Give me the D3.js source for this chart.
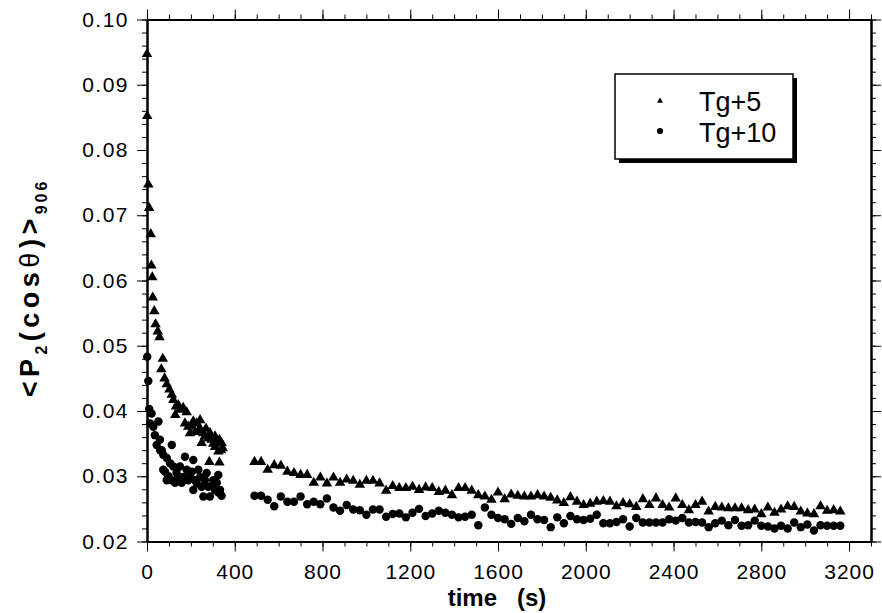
<!DOCTYPE html>
<html>
<head>
<meta charset="utf-8">
<script src="https://cdn.jsdelivr.net/npm/d3@7"></script>
<style>
  html, body { margin: 0; padding: 0; background: #fff; }
  svg { display: block; font-family: "Liberation Sans", Arial, sans-serif; }
  .domain { stroke: #000; stroke-width: 2; }
  .tick line { stroke: #000; stroke-width: 1; }
</style>
</head>
<body>
<svg id="chart" width="882" height="613"></svg>
<script>
// ---------------------------------------------------------------------------
// Data. Time in s, order parameter <P2(cos θ)>.
// ---------------------------------------------------------------------------

// first run, 0-350 s: [time, value]
const tg5Early = [
  [0, 0.0947], [1, 0.0852], [6, 0.0747], [10, 0.0711], [17, 0.0671], [20, 0.0623],
  [24, 0.0605], [26, 0.0574], [33, 0.0553], [39, 0.0533], [49, 0.0522], [57, 0.0513],
  [65, 0.0464], [72, 0.0480], [80, 0.0450], [90, 0.0441], [102, 0.0433], [113, 0.0425],
  [120, 0.0417], [129, 0.0394], [132, 0.0407], [143, 0.0409], [150, 0.0402], [165, 0.0405],
  [173, 0.0381], [181, 0.0398], [188, 0.0376], [196, 0.0366], [203, 0.0378], [211, 0.0384],
  [219, 0.0368], [227, 0.0381], [234, 0.0370], [242, 0.0386], [242, 0.0373], [249, 0.0351],
  [257, 0.0366], [264, 0.0361], [269, 0.0373], [279, 0.0358], [284, 0.0322], [287, 0.0366],
  [295, 0.0356], [302, 0.0350], [310, 0.0361], [310, 0.0345], [318, 0.0352], [325, 0.0338],
  [330, 0.0356], [330, 0.0321], [337, 0.0340], [340, 0.0351], [345, 0.0343]
];

const tg10Early = [
  [1, 0.0483], [6, 0.0446], [10, 0.0403], [14, 0.0381], [21, 0.0396], [29, 0.0376],
  [36, 0.0363], [44, 0.0348], [52, 0.0384], [59, 0.0356], [60, 0.0340], [67, 0.0340],
  [74, 0.0333], [74, 0.0310], [82, 0.0307], [90, 0.0328], [90, 0.0294], [98, 0.0300],
  [105, 0.0320], [113, 0.0348], [113, 0.0294], [120, 0.0315], [128, 0.0290], [135, 0.0305],
  [143, 0.0297], [150, 0.0315], [158, 0.0290], [165, 0.0299], [173, 0.0330], [181, 0.0310],
  [188, 0.0294], [196, 0.0300], [204, 0.0307], [211, 0.0325], [211, 0.0279], [219, 0.0294],
  [227, 0.0289], [234, 0.0310], [242, 0.0299], [249, 0.0284], [257, 0.0269], [264, 0.0294],
  [272, 0.0305], [279, 0.0284], [287, 0.0269], [295, 0.0285], [302, 0.0294], [310, 0.0279],
  [318, 0.0290], [325, 0.0302], [325, 0.0275], [333, 0.0279], [340, 0.0270]
];

// second run, sampled every 30 s
const lateTimes = [
  490, 520, 550, 580, 610, 640, 670, 700, 730, 760,
  790, 820, 850, 880, 910, 940, 970, 1000, 1030, 1060,
  1090, 1120, 1150, 1180, 1210, 1240, 1270, 1300, 1330, 1360,
  1390, 1420, 1450, 1480, 1510, 1540, 1570, 1600, 1630, 1660,
  1690, 1720, 1750, 1780, 1810, 1840, 1870, 1900, 1930, 1960,
  1990, 2020, 2050, 2080, 2110, 2140, 2170, 2200, 2230, 2260,
  2290, 2320, 2350, 2380, 2410, 2440, 2470, 2500, 2530, 2560,
  2590, 2620, 2650, 2680, 2710, 2740, 2770, 2800, 2830, 2860,
  2890, 2920, 2950, 2980, 3010, 3040, 3070, 3100, 3130, 3160
];

const tg5Late = [
  0.0322, 0.0322, 0.0310, 0.0317, 0.0316, 0.0307, 0.0305, 0.0302, 0.0302, 0.0290,
  0.0298, 0.0289, 0.0298, 0.0290, 0.0295, 0.0293, 0.0287, 0.0293, 0.0293, 0.0289,
  0.0278, 0.0285, 0.0282, 0.0282, 0.0284, 0.0279, 0.0283, 0.0282, 0.0276, 0.0278,
  0.0271, 0.0282, 0.0282, 0.0278, 0.0271, 0.0269, 0.0264, 0.0275, 0.0265, 0.0272,
  0.0270, 0.0269, 0.0269, 0.0271, 0.0269, 0.0267, 0.0263, 0.0259, 0.0268, 0.0261,
  0.0256, 0.0258, 0.0261, 0.0262, 0.0261, 0.0254, 0.0259, 0.0257, 0.0253, 0.0265,
  0.0256, 0.0266, 0.0256, 0.0252, 0.0266, 0.0256, 0.0248, 0.0256, 0.0261, 0.0246,
  0.0253, 0.0252, 0.0251, 0.0251, 0.0251, 0.0248, 0.0249, 0.0242, 0.0252, 0.0244,
  0.0249, 0.0254, 0.0253, 0.0246, 0.0243, 0.0242, 0.0254, 0.0247, 0.0248, 0.0246
];

const tg10Late = [
  0.0270, 0.0270, 0.0264, 0.0254, 0.0269, 0.0261, 0.0261, 0.0269, 0.0257, 0.0261,
  0.0257, 0.0266, 0.0252, 0.0247, 0.0256, 0.0249, 0.0248, 0.0241, 0.0249, 0.0249,
  0.0238, 0.0242, 0.0243, 0.0237, 0.0244, 0.0250, 0.0239, 0.0243, 0.0247, 0.0244,
  0.0241, 0.0237, 0.0238, 0.0241, 0.0225, 0.0252, 0.0241, 0.0236, 0.0234, 0.0227,
  0.0236, 0.0231, 0.0241, 0.0234, 0.0233, 0.0222, 0.0237, 0.0228, 0.0239, 0.0234,
  0.0233, 0.0235, 0.0241, 0.0228, 0.0228, 0.0230, 0.0234, 0.0223, 0.0236, 0.0229,
  0.0229, 0.0229, 0.0229, 0.0234, 0.0232, 0.0236, 0.0229, 0.0230, 0.0229, 0.0222,
  0.0228, 0.0232, 0.0225, 0.0233, 0.0224, 0.0225, 0.0232, 0.0224, 0.0223, 0.0220,
  0.0224, 0.0220, 0.0229, 0.0222, 0.0226, 0.0217, 0.0225, 0.0224, 0.0224, 0.0224
];

const xTicks = [0, 400, 800, 1200, 1600, 2000, 2400, 2800, 3200];
const yTicks = [0.02, 0.03, 0.04, 0.05, 0.06, 0.07, 0.08, 0.09, 0.10];
const seriesNames = ['Tg+5', 'Tg+10'];

// ---------------------------------------------------------------------------

const svg = d3.select('#chart');
const L = 147, R = 871, T = 19.5, B = 541.5;

const x = d3.scaleLinear().domain([0, 3300]).range([L, R]);
const y = d3.scaleLinear().domain([0.02, 0.10]).range([B, T]);

const xMinor = d3.range(0, 3301, 100);
const yMinor = d3.range(10, 51).map(i => +(i * 0.002).toFixed(3));

// one axis = minor ticks (short) + major ticks (long), both pointing outward
function frameSide(axisFn, scale, major, minor, transform, fmt) {
  svg.append('g')
    .attr('transform', transform)
    .call(axisFn(scale).tickValues(minor).tickSize(5).tickSizeOuter(0).tickFormat(''));
  const g = svg.append('g')
    .attr('transform', transform)
    .call(axisFn(scale).tickValues(major).tickSize(10).tickSizeOuter(0).tickFormat(fmt || ''));
  return g;
}

const gx = frameSide(d3.axisBottom, x, xTicks, xMinor, `translate(0,${B})`, d3.format('d'));
frameSide(d3.axisTop, x, xTicks, xMinor, `translate(0,${T})`);
const gy = frameSide(d3.axisLeft, y, yTicks, yMinor, `translate(${L},0)`, d3.format('.2f'));
frameSide(d3.axisRight, y, yTicks, yMinor, `translate(${R},0)`);

gx.selectAll('text')
  .attr('font-size', 21)
  .attr('letter-spacing', 1)
  .attr('fill', '#000')
  .attr('y', 23);

gy.selectAll('text')
  .attr('font-size', 21)
  .attr('letter-spacing', 1.5)
  .attr('fill', '#000')
  .attr('x', -18);

// axis titles
svg.append('text')
  .attr('x', 497).attr('y', 606)
  .attr('text-anchor', 'middle')
  .attr('font-size', 24).attr('font-weight', 'bold')
  .attr('xml:space', 'preserve')
  .text('time   (s)');

const yt = svg.append('text')
  .attr('transform', 'translate(39,288) rotate(-90)')
  .attr('text-anchor', 'middle')
  .attr('font-size', 27).attr('font-weight', 'bold')
  .attr('letter-spacing', 4.5);
yt.append('tspan').text('<P');
yt.append('tspan').attr('font-size', 16).attr('dy', 8).text('2');
yt.append('tspan').attr('dy', -8).text('(cos');
yt.append('tspan').attr('font-weight', 'normal').text('θ');
yt.append('tspan').text(')>');
yt.append('tspan').attr('font-size', 16).attr('dy', 8).attr('letter-spacing', 3).text('906');

// markers
const tri = d3.symbol().type(d3.symbolTriangle).size(48);
const dot = d3.symbol().type(d3.symbolCircle).size(56);

const tg5 = tg5Early.concat(lateTimes.map((t, i) => [t, tg5Late[i]]));
const tg10 = tg10Early.concat(lateTimes.map((t, i) => [t, tg10Late[i]]));

svg.append('g').selectAll('path')
  .data(tg10)
  .join('path')
  .attr('d', dot)
  .attr('fill', '#000')
  .attr('transform', d => `translate(${x(d[0])},${y(d[1])})`);

svg.append('g').selectAll('path')
  .data(tg5)
  .join('path')
  .attr('d', tri)
  .attr('fill', '#000')
  .attr('transform', d => `translate(${x(d[0])},${y(d[1])})`);

// legend box with drop shadow
const lg = svg.append('g');
lg.append('rect')
  .attr('x', 619).attr('y', 78).attr('width', 178).attr('height', 85)
  .attr('fill', '#000');
lg.append('rect')
  .attr('x', 615).attr('y', 74).attr('width', 178).attr('height', 85)
  .attr('fill', '#fff').attr('stroke', '#000').attr('stroke-width', 1.5);

lg.append('path')
  .attr('d', d3.symbol().type(d3.symbolTriangle).size(16))
  .attr('transform', 'translate(660,101)');
lg.append('path')
  .attr('d', d3.symbol().type(d3.symbolCircle).size(30))
  .attr('transform', 'translate(660,131)');

lg.selectAll('text.lab')
  .data(seriesNames)
  .join('text')
  .attr('class', 'lab')
  .attr('x', 699)
  .attr('y', (d, i) => 111 + i * 31)
  .attr('font-size', 27)
  .attr('fill', '#000')
  .text(d => d);
</script>
</body>
</html>
